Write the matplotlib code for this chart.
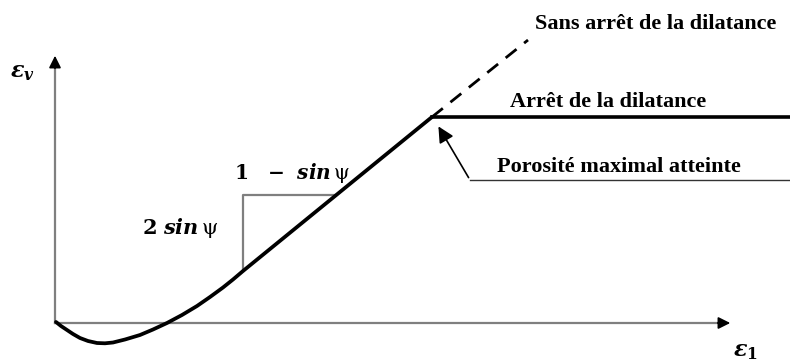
import matplotlib
matplotlib.use("Agg")
import matplotlib.pyplot as plt

plt.rcParams['mathtext.fontset'] = 'dejavuserif'

# schematic curve eps_v vs eps_1 (units: pixels from the origin)
curve_x = [1, 6, 12, 18, 25, 33, 42, 50, 58, 70, 85, 98, 112, 127, 142, 155, 168, 178, 188, 377]
curve_y = [1, -3, -7, -11, -15, -18, -20, -20.3, -19.5, -16.5, -12, -6.5, 0, 8, 17, 26, 35.5, 43.5, 52, 206]

# dilatancy continuing without stop
dash_x = [377, 473]
dash_y = [206, 283]

# dilatancy stopped
plateau_x = [377, 735]
plateau_y = [206, 206]

# slope triangle
tri_x = [188, 188, 280]
tri_y = [52, 128.5, 128.5]

# label leader
leader_x = [415, 735]
leader_y = [143, 143]

fig = plt.figure(figsize=(7.9, 3.61), dpi=100)
ax = fig.add_axes([0, 0, 1, 1])
ax.set_xlim(-55, 735)
ax.set_ylim(-38, 323)
ax.axis('off')

gray = '#7f7f7f'
# axes
ax.plot([0, 0], [0, 262], color=gray, lw=1.6)
ax.plot([0, 670], [0, 0], color=gray, lw=1.6)
ax.annotate('', xy=(0, 270), xytext=(0, 252),
            arrowprops=dict(arrowstyle='-|>', color='black', lw=1.2, mutation_scale=18))
ax.annotate('', xy=(678, 0), xytext=(660, 0),
            arrowprops=dict(arrowstyle='-|>', color='black', lw=1.2, mutation_scale=18))

ax.plot(tri_x, tri_y, color=gray, lw=1.6)
ax.plot(curve_x, curve_y, color='black', lw=2.7, solid_capstyle='round', solid_joinstyle='round')
ax.plot(dash_x, dash_y, color='black', lw=2.0, dashes=(5, 3.5))
ax.plot(plateau_x, plateau_y, color='black', lw=2.6)
ax.plot(leader_x, leader_y, color='#333333', lw=1.0)
ax.annotate('', xy=(382, 199), xytext=(415, 143),
            arrowprops=dict(arrowstyle='-|>', color='black', lw=1.2, mutation_scale=24))

serif = dict(family='Liberation Serif', weight='bold', fontsize=16, va='center', ha='left')
ax.text(480, 299, 'Sans arrêt de la dilatance', **serif)
ax.text(455, 221, 'Arrêt de la dilatance', **serif)
ax.text(442, 156, 'Porosité maximal atteinte', **serif)

ax.text(179, 150, r'$\mathbf{1}\ \ \ \mathbf{-}\ \ \mathbfit{sin}\,\mathrm{ψ}$', fontsize=14.5, va='center', ha='left')
ax.text(87, 95, r'$\mathbf{2}\ \mathbfit{sin}\,\mathrm{ψ}$', fontsize=15, va='center', ha='left')
ax.text(-45, 250, r'$\mathbfit{\varepsilon}_{\mathbfit{v}}$', fontsize=16, va='center', ha='left')
ax.text(678, -29, r'$\mathbfit{\varepsilon}_{\mathbf{1}}$', fontsize=16, va='center', ha='left')

fig.savefig('out.png', dpi=100)
